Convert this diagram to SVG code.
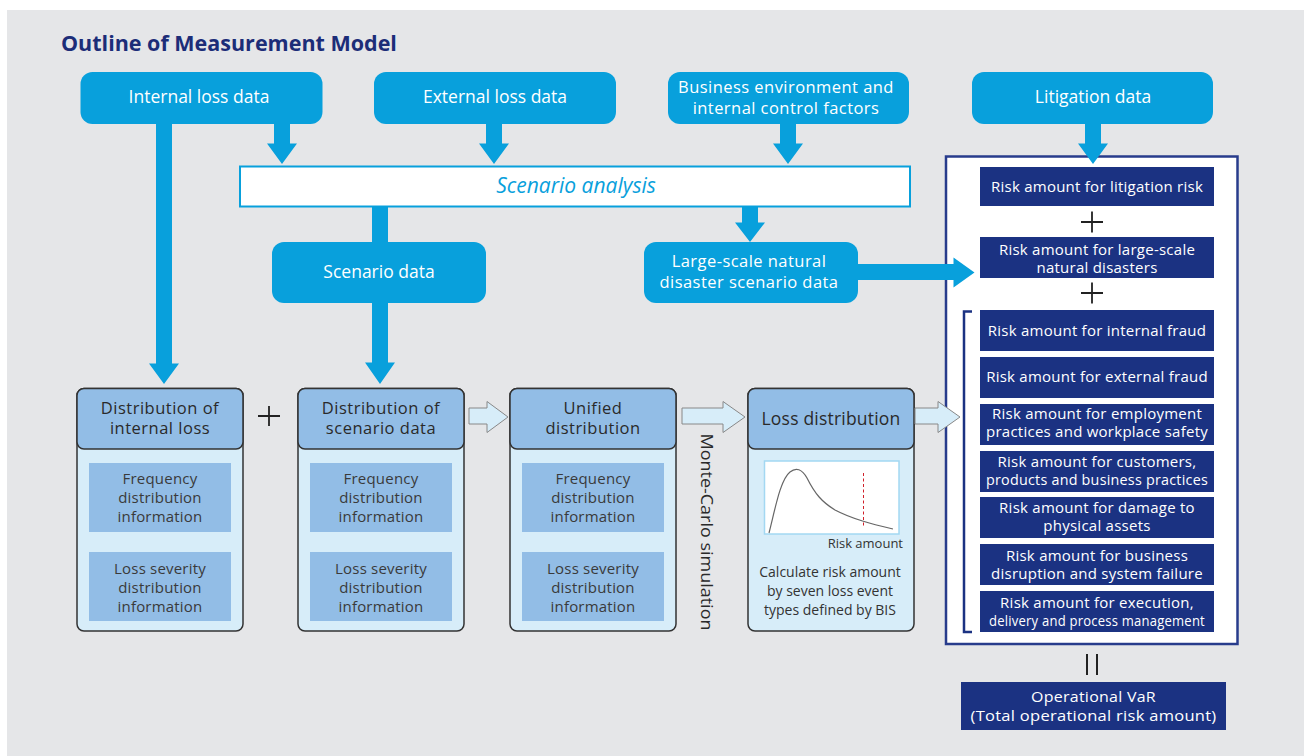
<svg xmlns="http://www.w3.org/2000/svg" width="1304" height="756" viewBox="0 0 1304 756">
<style>
text{font-family:"Open Sans","Noto Sans","Liberation Sans",sans-serif}
.cy{fill:#08a0dc}
.cyt{fill:#fff;font-size:17.5px;text-anchor:middle}
.cy2{fill:#fff;font-size:16.5px;letter-spacing:0.45px;text-anchor:middle}
.nv{fill:#1b3282}
.nvt{fill:#fff;font-size:15px;letter-spacing:0.25px;text-anchor:middle}
.hdr{fill:#92bde6;stroke:#333;stroke-width:1.5}
.body{fill:#d7edf9;stroke:#333;stroke-width:1.5}
.inner{fill:#92bde6}
.ht{fill:#2a2a2a;font-size:16.5px;letter-spacing:0.5px;text-anchor:middle}
.it{fill:#3a3a3a;font-size:15px;letter-spacing:0.2px;text-anchor:middle}
.st{fill:#333;font-size:14px;text-anchor:middle}
.hollow{fill:#d7edf9;stroke:#888;stroke-width:1}
.plus{stroke:#222;stroke-width:1.8;fill:none}
</style>
<rect x="7" y="10" width="1297" height="746" fill="#e5e6e8"/>
<text x="61" y="51" font-size="21.5" font-weight="bold" fill="#1c2d78">Outline of Measurement Model</text>

<g id="internal-loss-data"><rect class="cy" x="80.5" y="72" width="242" height="52" rx="12"/><text class="cyt" x="199" y="103">Internal loss data</text></g>
<g id="external-loss-data"><rect class="cy" x="374" y="72" width="242" height="52" rx="12"/><text class="cyt" x="495" y="103">External loss data</text></g>
<g id="business-environment"><rect class="cy" x="668" y="72" width="241" height="52" rx="12"/><text class="cy2"><tspan x="786" y="92.5">Business environment and</tspan><tspan x="786" y="113.5">internal control factors</tspan></text></g>
<g id="litigation-data"><rect class="cy" x="972" y="72" width="241" height="52" rx="12"/><text class="cyt" x="1093" y="103">Litigation data</text></g>

<g id="scenario-analysis"><rect x="240" y="166.5" width="670" height="40" fill="#fff" stroke="#08a0dc" stroke-width="2"/><text x="576" y="193" font-size="21" font-style="italic" fill="#08a0dc" text-anchor="middle">Scenario analysis</text></g>
<g id="scenario-data"><rect class="cy" x="272" y="242" width="214" height="61" rx="12"/><text class="cyt" x="379" y="278">Scenario data</text></g>
<g id="large-scale-data"><rect class="cy" x="644" y="242" width="214" height="61" rx="12"/><text class="cy2"><tspan x="749" y="267">Large-scale natural</tspan><tspan x="749" y="288">disaster scenario data</tspan></text></g>

<g id="dist-internal">
<rect class="body" x="77" y="388.5" width="166" height="242.5" rx="7"/>
<rect class="hdr" x="77" y="388.5" width="166" height="60.5" rx="7"/>
<text class="ht"><tspan x="160" y="413.5">Distribution of</tspan><tspan x="160" y="434">internal loss</tspan></text>
<rect class="inner" x="89" y="463" width="142" height="69"/>
<text class="it"><tspan x="160" y="484">Frequency</tspan><tspan x="160" y="503">distribution</tspan><tspan x="160" y="522">information</tspan></text>
<rect class="inner" x="89" y="552" width="142" height="69"/>
<text class="it"><tspan x="160" y="574">Loss severity</tspan><tspan x="160" y="593">distribution</tspan><tspan x="160" y="612">information</tspan></text>
</g>
<g id="dist-scenario">
<rect class="body" x="298" y="388.5" width="166" height="242.5" rx="7"/>
<rect class="hdr" x="298" y="388.5" width="166" height="60.5" rx="7"/>
<text class="ht"><tspan x="381" y="413.5">Distribution of</tspan><tspan x="381" y="434">scenario data</tspan></text>
<rect class="inner" x="310" y="463" width="142" height="69"/>
<text class="it"><tspan x="381" y="484">Frequency</tspan><tspan x="381" y="503">distribution</tspan><tspan x="381" y="522">information</tspan></text>
<rect class="inner" x="310" y="552" width="142" height="69"/>
<text class="it"><tspan x="381" y="574">Loss severity</tspan><tspan x="381" y="593">distribution</tspan><tspan x="381" y="612">information</tspan></text>
</g>
<g id="unified-distribution">
<rect class="body" x="510" y="388.5" width="166" height="242.5" rx="7"/>
<rect class="hdr" x="510" y="388.5" width="166" height="60.5" rx="7"/>
<text class="ht"><tspan x="593" y="413.5">Unified</tspan><tspan x="593" y="434">distribution</tspan></text>
<rect class="inner" x="522" y="463" width="142" height="69"/>
<text class="it"><tspan x="593" y="484">Frequency</tspan><tspan x="593" y="503">distribution</tspan><tspan x="593" y="522">information</tspan></text>
<rect class="inner" x="522" y="552" width="142" height="69"/>
<text class="it"><tspan x="593" y="574">Loss severity</tspan><tspan x="593" y="593">distribution</tspan><tspan x="593" y="612">information</tspan></text>
</g>
<g id="loss-distribution">
<rect class="body" x="748" y="388.5" width="166" height="242.5" rx="7"/>
<rect class="hdr" x="748" y="388.5" width="166" height="60.5" rx="7"/>
<text class="ht" x="831" y="424.5" style="font-size:17.5px;letter-spacing:0.2px">Loss distribution</text>
<rect x="764.5" y="461" width="134.5" height="73" fill="#fff" stroke="#a3d8f2" stroke-width="1.5"/>
<path d="M769,533 C775,510 780,480 790,472 C796,467 802,469 807,478 C815,494 822,502 835,510 C852,519 872,524 893,529" fill="none" stroke="#666" stroke-width="1.2"/>
<line x1="863.5" y1="473" x2="863.5" y2="527" stroke="#d0202a" stroke-width="1" stroke-dasharray="3,2.5"/>
<text x="903" y="548" font-size="13" fill="#333" text-anchor="end">Risk amount</text>
<text class="st"><tspan x="830" y="577">Calculate risk amount</tspan><tspan x="830" y="596">by seven loss event</tspan><tspan x="830" y="615">types defined by BIS</tspan></text>
</g>
<text transform="translate(700.5,532) rotate(90)" font-size="17" fill="#2a2a2a" text-anchor="middle" textLength="197" lengthAdjust="spacingAndGlyphs">Monte-Carlo simulation</text>
<path class="plus" d="M258,416H280M269,406V426"/>

<g id="risk-total">
<rect x="946" y="156.5" width="291.5" height="487.5" fill="#fff" stroke="#283c8c" stroke-width="2.5"/>
<rect class="nv" x="980" y="167" width="234" height="39"/><text class="nvt" x="1097" y="192">Risk amount for litigation risk</text>
<path class="plus" d="M1081,222H1103M1092,211.5V232.5"/>
<rect class="nv" x="980" y="237" width="234" height="41"/><text class="nvt"><tspan x="1097" y="254.5">Risk amount for large-scale</tspan><tspan x="1097" y="272.5">natural disasters</tspan></text>
<path class="plus" d="M1081,293H1103M1092,282.5V303.5"/>
<path d="M972,311.5H964V632H972" fill="none" stroke="#1b3282" stroke-width="2.5"/>
<rect class="nv" x="980" y="310" width="234" height="41"/><text class="nvt" x="1097" y="335.5">Risk amount for internal fraud</text>
<rect class="nv" x="980" y="357" width="234" height="41"/><text class="nvt" x="1097" y="382">Risk amount for external fraud</text>
<rect class="nv" x="980" y="404" width="234" height="41"/><text class="nvt"><tspan x="1097" y="418.5">Risk amount for employment</tspan><tspan x="1097" y="436.5">practices and workplace safety</tspan></text>
<rect class="nv" x="980" y="451" width="234" height="41"/><text class="nvt"><tspan x="1097" y="467">Risk amount for customers,</tspan><tspan x="1097" y="485" textLength="222" lengthAdjust="spacingAndGlyphs">products and business practices</tspan></text>
<rect class="nv" x="980" y="497" width="234" height="41"/><text class="nvt"><tspan x="1097" y="512.5">Risk amount for damage to</tspan><tspan x="1097" y="530.5">physical assets</tspan></text>
<rect class="nv" x="980" y="544" width="234" height="41"/><text class="nvt"><tspan x="1097" y="560.5">Risk amount for business</tspan><tspan x="1097" y="578.5">disruption and system failure</tspan></text>
<rect class="nv" x="980" y="591" width="234" height="41"/><text class="nvt"><tspan x="1097" y="608">Risk amount for execution,</tspan><tspan x="1097" y="626" textLength="216" lengthAdjust="spacingAndGlyphs">delivery and process management</tspan></text>
</g>
<path d="M1087,654V675M1097,654V675" stroke="#222" stroke-width="2" fill="none"/>
<g id="operational-var"><rect class="nv" x="961" y="682" width="265" height="48"/><text class="nvt" style="font-size:15px"><tspan x="1093.5" y="701.5" textLength="125" lengthAdjust="spacingAndGlyphs">Operational VaR</tspan><tspan x="1093.5" y="720.5" textLength="246" lengthAdjust="spacingAndGlyphs">(Total operational risk amount)</tspan></text></g>

<g id="connectors">
<path class="cy" d="M156,124H172V363.5H179L164,384L149,363.5H156Z"/>
<path class="cy" d="M274,124H290V143.5H297L282,164L267,143.5H274Z"/>
<path class="cy" d="M486,124H502V143.5H509L494,164L479,143.5H486Z"/>
<path class="cy" d="M780,124H796V143.5H803L788,164L773,143.5H780Z"/>
<path class="cy" d="M1085,124H1101V143.5H1108L1093,164L1078,143.5H1085Z"/>
<rect class="cy" x="372" y="206" width="16" height="36"/>
<path class="cy" d="M372,303H388V362.5H395L380,384L365,362.5H372Z"/>
<path class="cy" d="M742,206H758V222.5H765L750,242L735,222.5H742Z"/>
<path class="cy" d="M858,264H953.5V257.5L974.5,272.5L953.5,287.5V280H858Z"/>
<path class="hollow" d="M469,408H487V401.5L508,417L487,432.5V424H469Z"/>
<path class="hollow" d="M682,408H723V401.5L745,417L723,432.5V424H682Z"/>
<path class="hollow" d="M915,408H938V401.5L960,417L938,432.5V424H915Z"/>
</g>
</svg>
